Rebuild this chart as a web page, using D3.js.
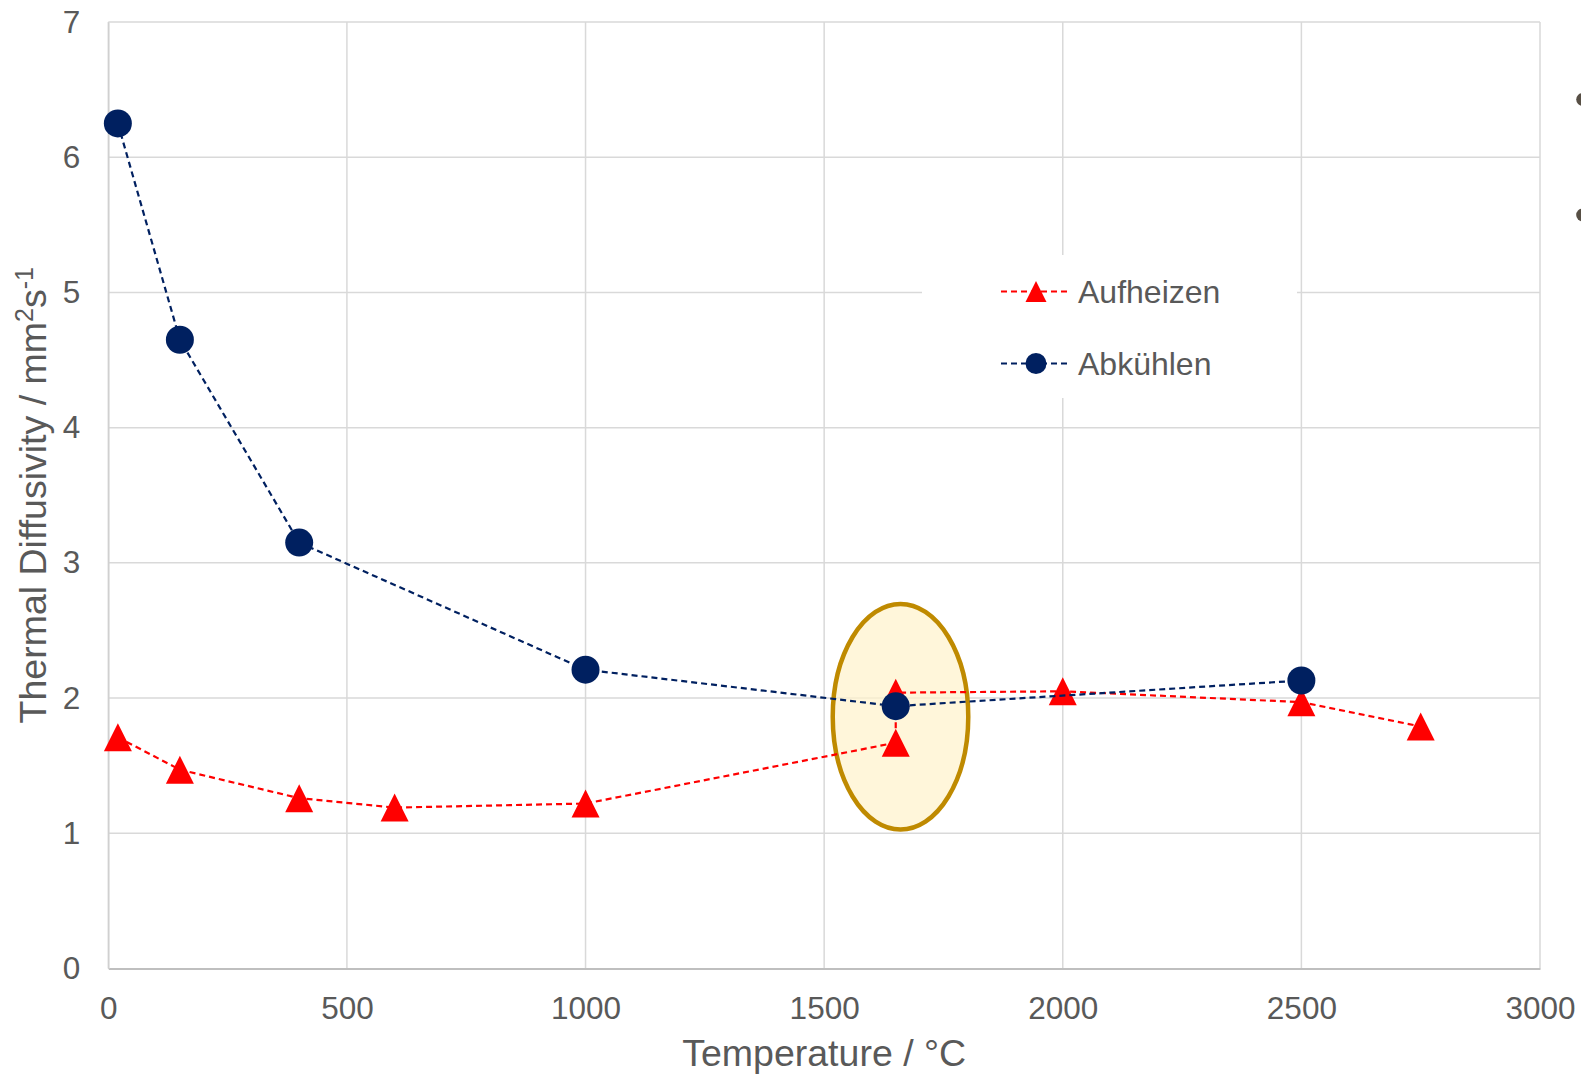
<!DOCTYPE html>
<html>
<head>
<meta charset="utf-8">
<script src="https://cdn.jsdelivr.net/npm/d3@7"></script>
<style>
  html, body { margin: 0; padding: 0; background: #ffffff; }
  svg { display: block; font-family: "Liberation Sans", Arial, sans-serif; }
</style>
</head>
<body>
<svg id="chart" width="1581" height="1074"></svg>
<script>
// Thermal diffusivity measured while heating (Aufheizen) and cooling (Abkühlen)
const heatTemp = [20, 150, 400, 600, 1000, 1650, 1650, 2000, 2500, 2750];
const heatDiff = [1.71, 1.47, 1.26, 1.19, 1.22, 1.67, 2.04, 2.05, 1.97, 1.79];

const coolTemp = [20, 150, 400, 1000, 1650, 2500];
const coolDiff = [6.25, 4.65, 3.15, 2.21, 1.94, 2.13];

const xTicks = [0, 500, 1000, 1500, 2000, 2500, 3000];
const yTicks = [0, 1, 2, 3, 4, 5, 6, 7];

const seriesNames = ["Aufheizen", "Abkühlen"];
const xTitle = "Temperature / °C";

// highlighted region around the phase change (data units)
const highlightCenter = [1660, 1.862];
const highlightRadii = [142, 0.834];

const svg = d3.select("#chart");
const plotLeft = 108.3, plotRight = 1540, plotTop = 22, plotBottom = 968.5;

const x = d3.scaleLinear().domain([0, 3000]).range([plotLeft, plotRight]);
const y = d3.scaleLinear().domain([0, 7]).range([plotBottom, plotTop]);

const textColor = "#595959";
const gridColor = "#d9d9d9";
const red = "#ff0000";
const navy = "#002060";
const fontFamily = "Liberation Sans, Arial, sans-serif";

// gridlines
const grid = svg.append("g");
grid.selectAll("line.h").data(yTicks.slice(1)).join("line")
  .attr("class", "h")
  .attr("x1", plotLeft).attr("x2", plotRight)
  .attr("y1", d => y(d)).attr("y2", d => y(d))
  .attr("stroke", gridColor).attr("stroke-width", 1.5);
grid.selectAll("line.v").data(xTicks).join("line")
  .attr("class", "v")
  .attr("y1", plotTop).attr("y2", plotBottom)
  .attr("x1", d => x(d)).attr("x2", d => x(d))
  .attr("stroke", gridColor).attr("stroke-width", 1.5);

// axes
const xAxis = d3.axisBottom(x).tickValues(xTicks).tickSize(0).tickPadding(28).tickFormat(d3.format("d"));
const gx = svg.append("g").attr("transform", `translate(0,${plotBottom})`).call(xAxis);
gx.select(".domain").attr("stroke", "#bfbfbf").attr("stroke-width", 2);
gx.selectAll("text").attr("fill", textColor).attr("font-size", 31.5).attr("font-family", fontFamily);

const yAxis = d3.axisLeft(y).tickValues(yTicks).tickSize(0).tickPadding(28).tickFormat(d3.format("d"));
const gy = svg.append("g").attr("transform", `translate(${plotLeft},0)`).call(yAxis);
gy.select(".domain").attr("stroke", "#cfcfcf").attr("stroke-width", 1.5);
gy.selectAll("text").attr("fill", textColor).attr("font-size", 31.5).attr("font-family", fontFamily);

// axis titles
svg.append("text")
  .attr("x", (plotLeft + plotRight) / 2).attr("y", 1066)
  .attr("text-anchor", "middle")
  .attr("fill", textColor).attr("font-size", 37.5)
  .text(xTitle);

const yt = svg.append("text")
  .attr("transform", `translate(46,${(plotTop + plotBottom) / 2}) rotate(-90)`)
  .attr("text-anchor", "middle")
  .attr("fill", textColor).attr("font-size", 37.5);
yt.append("tspan").text("Thermal Diffusivity / mm");
yt.append("tspan").attr("font-size", 25).attr("dy", -13).text("2");
yt.append("tspan").attr("dy", 13).text("s");
yt.append("tspan").attr("font-size", 25).attr("dy", -13).text("-1");

// highlighted ellipse
svg.append("ellipse")
  .attr("cx", x(highlightCenter[0])).attr("cy", y(highlightCenter[1]))
  .attr("rx", x(highlightRadii[0]) - x(0))
  .attr("ry", y(0) - y(highlightRadii[1]))
  .attr("fill", "#fff2cc").attr("fill-opacity", 0.72)
  .attr("stroke", "#bf8a00").attr("stroke-width", 4.5);

// centred triangle marker of given size
function triPath(size) {
  const h = size, w = size;
  return `M0,${-h / 2}L${w / 2},${h / 2}L${-w / 2},${h / 2}Z`;
}

const line = d3.line().x(d => x(d[0])).y(d => y(d[1]));

// heating series
const heat = heatTemp.map((t, i) => [t, heatDiff[i]]);
svg.append("path").datum(heat)
  .attr("d", line).attr("fill", "none")
  .attr("stroke", red).attr("stroke-width", 2.2).attr("stroke-dasharray", "6,4");
svg.append("g").selectAll("path").data(heat).join("path")
  .attr("transform", d => `translate(${x(d[0])},${y(d[1])})`)
  .attr("d", triPath(28)).attr("fill", red);

// cooling series
const cool = coolTemp.map((t, i) => [t, coolDiff[i]]);
svg.append("path").datum(cool)
  .attr("d", line).attr("fill", "none")
  .attr("stroke", navy).attr("stroke-width", 2.2).attr("stroke-dasharray", "6,4");
svg.append("g").selectAll("circle").data(cool).join("circle")
  .attr("cx", d => x(d[0])).attr("cy", d => y(d[1]))
  .attr("r", 14).attr("fill", navy);

// legend
const lg = svg.append("g");
lg.append("rect").attr("x", 922).attr("y", 255).attr("width", 375).attr("height", 143).attr("fill", "#ffffff");
const legendRows = [
  { name: seriesNames[0], color: red, marker: "tri", yPos: 291.5 },
  { name: seriesNames[1], color: navy, marker: "circle", yPos: 363.5 }
];
legendRows.forEach(r => {
  lg.append("line").attr("x1", 1001).attr("x2", 1071).attr("y1", r.yPos).attr("y2", r.yPos)
    .attr("stroke", r.color).attr("stroke-width", 2.2).attr("stroke-dasharray", "6,4");
  if (r.marker === "tri") {
    lg.append("path").attr("transform", `translate(1036,${r.yPos})`).attr("d", triPath(21)).attr("fill", r.color);
  } else {
    lg.append("circle").attr("cx", 1036).attr("cy", r.yPos).attr("r", 10.5).attr("fill", r.color);
  }
  lg.append("text").attr("x", 1078).attr("y", r.yPos).attr("dy", "0.35em")
    .attr("fill", textColor).attr("font-size", 32).text(r.name);
});

// slide bullet dots at the right edge
svg.append("g").selectAll("circle").data([99.5, 215]).join("circle")
  .attr("cx", 1582.5).attr("cy", d => d).attr("r", 6.3).attr("fill", "#574f45");
</script>
</body>
</html>
